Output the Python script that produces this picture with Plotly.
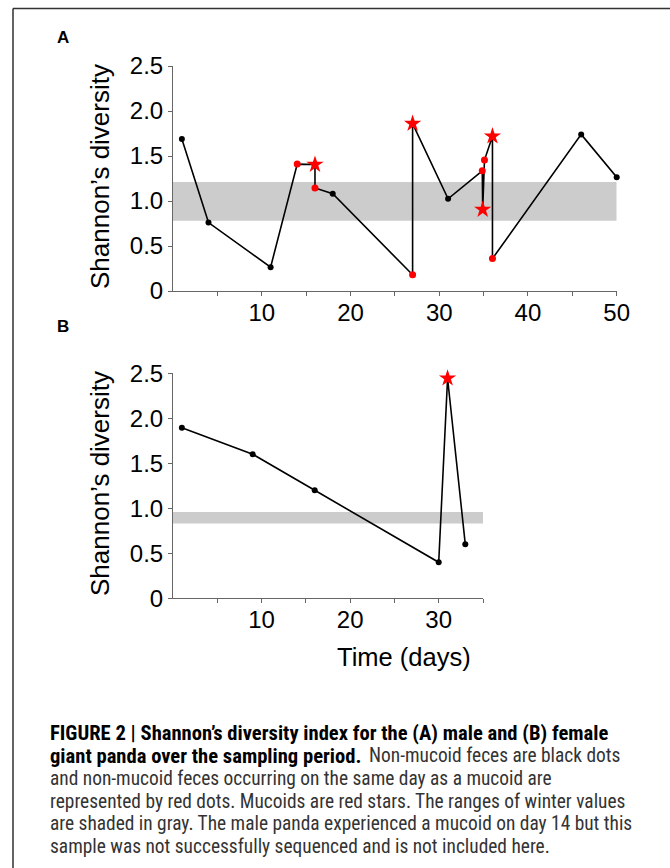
import plotly.graph_objects as go

W, H = 670, 868

# ---------------- data ----------------
# Panel A (male)
days_A = [1, 4, 11, 14, 16, 16, 18, 27, 27, 31, 34.85, 34.9, 35.1, 36, 36, 46, 50]
shannon_A = [1.69, 0.76, 0.265, 1.41, 1.405, 1.145, 1.08, 0.18, 1.86, 1.025, 1.335, 0.905, 1.455, 1.72, 0.36, 1.74, 1.265]
kind_A = ["n", "n", "n", "r", "s", "r", "n", "r", "s", "n", "r", "s", "r", "s", "r", "n", "n"]
winter_A = [0.78, 1.21]
xrange_A = [0, 50]

# Panel B (female)
days_B = [1, 9, 16, 30, 31, 33]
shannon_B = [1.895, 1.60, 1.20, 0.40, 2.445, 0.60]
kind_B = ["n", "n", "n", "n", "s", "n"]
winter_B = [0.83, 0.96]
xrange_B = [0, 35]

yrange = [0, 2.5]
y_tickvals = [0, 0.5, 1.0, 1.5, 2.0, 2.5]
y_ticktext = ["0", "0.5", "1.0", "1.5", "2.0", "2.5"]
x_tickvals_A = [5, 10, 15, 20, 25, 30, 35, 40, 45, 50]
x_ticktext_A = ["", "10", "", "20", "", "30", "", "40", "", "50"]
x_tickvals_B = [5, 10, 15, 20, 25, 30, 35]
x_ticktext_B = ["", "10", "", "20", "", "30", ""]

caption_lines = [
    ("FIGURE 2 | Shannon’s diversity index for the (A) male and (B) female", ""),
    ("giant panda over the sampling period.", "Non-mucoid feces are black dots"),
    ("", "and non-mucoid feces occurring on the same day as a mucoid are"),
    ("", "represented by red dots. Mucoids are red stars. The ranges of winter values"),
    ("", "are shaded in gray. The male panda experienced a mucoid on day 14 but this"),
    ("", "sample was not successfully sequenced and is not included here."),
]

# ---------------- helpers ----------------
def px_x(p):
    return p / W


def px_y(p):
    return 1 - p / H


AX_FONT = "Arial, Liberation Sans, sans-serif"
CAP_FONT = "Liberation Sans Narrow, Arial Narrow, Roboto Condensed, Arial, sans-serif"

fig = go.Figure()


def add_panel(days, vals, kinds, xa, ya):
    fig.add_trace(go.Scatter(x=days, y=vals, mode="lines",
                             line=dict(color="black", width=1.6),
                             xaxis=xa, yaxis=ya, showlegend=False, hoverinfo="skip",
                             cliponaxis=False))
    styles = {
        "n": dict(symbol="circle", size=6, color="black"),
        "r": dict(symbol="circle", size=7, color="#ff0000"),
        "s": dict(symbol="star", size=13, color="#ff0000"),
    }
    for k, st in styles.items():
        xs = [d for d, kk in zip(days, kinds) if kk == k]
        ys = [v for v, kk in zip(vals, kinds) if kk == k]
        if not xs:
            continue
        fig.add_trace(go.Scatter(x=xs, y=ys, mode="markers",
                                 marker=dict(symbol=st["symbol"], size=st["size"],
                                             color=st["color"], line=dict(width=0)),
                                 xaxis=xa, yaxis=ya, showlegend=False, cliponaxis=False))


add_panel(days_A, shannon_A, kind_A, "x", "y")
add_panel(days_B, shannon_B, kind_B, "x2", "y2")

# winter bands
fig.add_shape(type="rect", xref="x", yref="y", x0=xrange_A[0], x1=xrange_A[1],
              y0=winter_A[0], y1=winter_A[1], fillcolor="#cccccc",
              line=dict(width=0), layer="below")
fig.add_shape(type="rect", xref="x2", yref="y2", x0=xrange_B[0], x1=xrange_B[1],
              y0=winter_B[0], y1=winter_B[1], fillcolor="#cccccc",
              line=dict(width=0), layer="below")

# frame lines
fig.add_shape(type="line", xref="paper", yref="paper", x0=px_x(13), x1=1.0,
              y0=px_y(8.5), y1=px_y(8.5), line=dict(color="#333333", width=1.6))
fig.add_shape(type="line", xref="paper", yref="paper", x0=px_x(13), x1=px_x(13),
              y0=px_y(8.5), y1=0, line=dict(color="#222222", width=1.4))

axis_common = dict(showline=True, linecolor="#666666", linewidth=1, ticks="outside",
                   ticklen=4, tickwidth=1, tickcolor="#666666", showgrid=False,
                   zeroline=False, fixedrange=True, automargin=False,
                   tickfont=dict(family=AX_FONT, size=24, color="black"))

x0p, xA1p, xB1p = 173, 616.7, 483
fig.update_layout(
    width=W, height=H, margin=dict(l=0, r=0, t=0, b=0, pad=0, autoexpand=False),
    paper_bgcolor="white", plot_bgcolor="white",
    xaxis=dict(domain=[px_x(x0p), px_x(xA1p)], range=xrange_A, anchor="y",
               tickmode="array", tickvals=x_tickvals_A, ticktext=x_ticktext_A,
               ticklabelstandoff=-4, **axis_common),
    yaxis=dict(domain=[px_y(291), px_y(66)], range=yrange, anchor="x",
               tickmode="array", tickvals=y_tickvals, ticktext=y_ticktext, **axis_common),
    xaxis2=dict(domain=[px_x(x0p), px_x(xB1p)], range=xrange_B, anchor="y2",
                tickmode="array", tickvals=x_tickvals_B, ticktext=x_ticktext_B,
                ticklabelstandoff=-4, **axis_common),
    yaxis2=dict(domain=[px_y(598.3), px_y(373.3)], range=yrange, anchor="x2",
                tickmode="array", tickvals=y_tickvals, ticktext=y_ticktext, **axis_common),
)


def a(text, x, y, size, family=AX_FONT, color="black", angle=0, xanchor="center"):
    return dict(text=text, x=px_x(x), y=px_y(y), xref="paper", yref="paper",
                xanchor=xanchor, yanchor="middle", textangle=angle, showarrow=False,
                font=dict(family=family, size=size, color=color))


ann = [
    a("<b>A</b>", 63, 37, 17),
    a("<b>B</b>", 63, 327, 17),
    a("Shannon’s diversity", 100, 176, 26, angle=-90),
    a("Shannon’s diversity", 100, 483, 26, angle=-90),
    a("Time (days)", 404, 657, 25.5),
]

cap_y0, cap_dy = 733, 22.7
for i, (bold, reg) in enumerate(caption_lines):
    yy = cap_y0 + i * cap_dy
    if bold:
        ann.append(a("<b>" + bold + "</b>", 48, yy, 20.6, family=CAP_FONT, color="black",
                     xanchor="left"))
    if reg:
        xx = 367 if bold else 48
        ann.append(a(reg, xx, yy, 19.4, family=CAP_FONT, color="#333333", xanchor="left"))

fig.update_layout(annotations=ann)

fig.write_html("out.html", config={"displayModeBar": False},
               post_script="document.body.style.margin='0';document.body.style.overflow='hidden';")
